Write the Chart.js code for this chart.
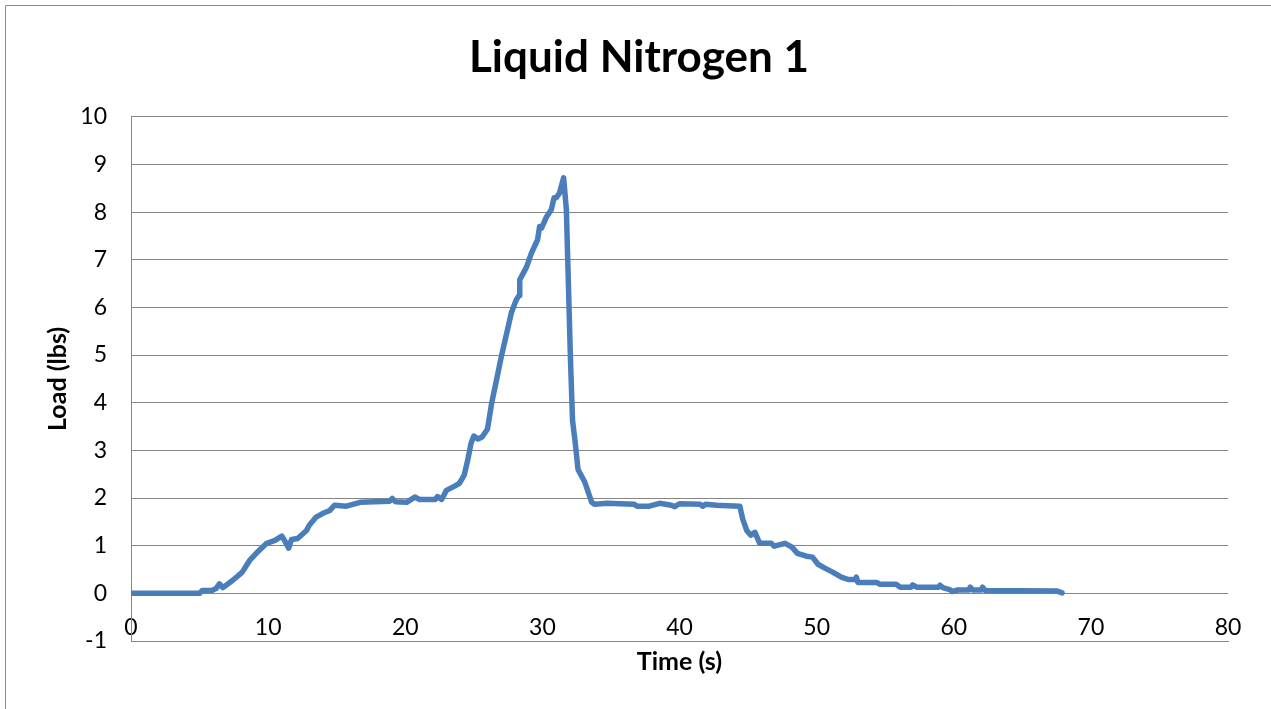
<!DOCTYPE html>
<html>
<head>
<meta charset="utf-8">
<title>Liquid Nitrogen 1</title>
<script src="https://cdn.jsdelivr.net/npm/chart.js@4.4.1/dist/chart.umd.min.js"></script>
<style>
  html, body { margin: 0; padding: 0; background: #fff; }
  canvas { display: block; }
</style>
</head>
<body>
<canvas id="myLoadChart" width="1271" height="709"></canvas>
<script>
// time in seconds
const timeValues = [
  0, 5.0, 5.2, 5.9, 6.2, 6.45, 6.7, 7.4, 8.1, 8.65, 9.2, 9.9, 10.5, 11.0, 11.2, 11.5, 11.7,
  12.15, 12.8, 13.0, 13.5, 14.0, 14.5, 14.85, 15.7, 16.45, 16.7, 18.85, 19.05, 19.3, 20.1,
  20.7, 21.05, 22.2, 22.35, 22.65, 23.0, 23.6, 23.95, 24.3, 24.55, 24.8, 25.0, 25.3, 25.6,
  26.0, 26.3, 26.65, 27.0, 27.4, 27.75, 28.1, 28.3, 28.35, 28.85, 29.2, 29.65, 29.8, 29.95,
  30.3, 30.65, 30.85, 31.0, 31.25, 31.55, 31.75, 31.85, 32.05, 32.2, 32.4, 32.6, 33.1, 33.6,
  33.8, 34.7, 36.7, 36.9, 37.8, 38.55, 39.4, 39.65, 40.0, 41.5, 41.7, 41.9, 42.7, 43.5, 44.4,
  44.6, 44.9, 45.2, 45.5, 45.85, 46.7, 46.9, 47.7, 48.2, 48.6, 49.25, 49.7, 50.1, 50.6, 51.2,
  51.8, 52.3, 52.85, 52.9, 53.0, 54.4, 54.6, 55.8, 56.1, 56.9, 57.0, 57.3, 58.9, 59.0, 59.2,
  59.7, 59.9, 60.3, 61.1, 61.2, 61.4, 62.0, 62.1, 62.3, 67.5, 67.9
];
// load in lbs
const loadValues = [
  0, 0, 0.06, 0.06, 0.1, 0.2, 0.12, 0.27, 0.44, 0.69, 0.86, 1.05, 1.11, 1.2, 1.11, 0.95, 1.13,
  1.15, 1.32, 1.43, 1.6, 1.68, 1.74, 1.85, 1.83, 1.89, 1.91, 1.93, 1.99, 1.92, 1.91,
  2.02, 1.97, 1.97, 2.03, 1.97, 2.16, 2.25, 2.31, 2.48, 2.79, 3.15, 3.3, 3.24, 3.28,
  3.45, 3.99, 4.47, 4.96, 5.46, 5.9, 6.16, 6.25, 6.58, 6.85, 7.14, 7.42, 7.7, 7.67,
  7.9, 8.05, 8.3, 8.3, 8.4, 8.72, 8.05, 7.0, 4.9, 3.63, 3.15, 2.6, 2.33, 1.91,
  1.87, 1.89, 1.87, 1.83, 1.83, 1.89, 1.85, 1.82, 1.88, 1.87, 1.83, 1.87, 1.85, 1.84, 1.83,
  1.57, 1.32, 1.22, 1.28, 1.05, 1.05, 0.99, 1.05, 0.97, 0.84, 0.78, 0.76, 0.61, 0.53, 0.44,
  0.34, 0.29, 0.29, 0.34, 0.23, 0.23, 0.19, 0.19, 0.13, 0.13, 0.18, 0.13, 0.13, 0.17, 0.12,
  0.08, 0.04, 0.07, 0.07, 0.13, 0.07, 0.07, 0.13, 0.06, 0.05, 0.01
];
const xTicks = [0, 10, 20, 30, 40, 50, 60, 70, 80];
const yTicks = [-1, 0, 1, 2, 3, 4, 5, 6, 7, 8, 9, 10];

const gridColor = "#868686";
const fontName = "Lato";

const puntos = timeValues.map((t, i) => ({ x: t, y: loadValues[i] }));

// white background + the thin frame Excel draws round the chart
const marco = {
  id: "marco",
  beforeDraw(chart) {
    const c = chart.ctx;
    c.save();
    c.fillStyle = "#fff";
    c.fillRect(0, 0, chart.width, chart.height);
    c.strokeStyle = "#8c8c8c";
    c.lineWidth = 1;
    c.beginPath();
    c.moveTo(5.5, chart.height);
    c.lineTo(5.5, 5.5);
    c.lineTo(chart.width, 5.5);
    c.stroke();
    c.restore();
  },
};

let myLoadChart;
const ctx = document.getElementById("myLoadChart").getContext("2d");
myLoadChart = new Chart(ctx, {
  type: "scatter",
  data: {
    datasets: [
      {
        label: "Load (lbs)",
        data: puntos,
        showLine: true,
        borderColor: "#4A7EBB",
        backgroundColor: "#4A7EBB",
        borderWidth: 5.5,
        pointRadius: 0,
        tension: 0,
        borderJoinStyle: "round",
        borderCapStyle: "round",
      },
    ],
  },
  options: {
    responsive: false,
    animation: false,
    layout: { padding: { left: 50, right: 43, top: 0, bottom: 0 } },
    plugins: {
      legend: { display: false },
      tooltip: { enabled: false },
      title: {
        display: true,
        text: "Liquid Nitrogen 1",
        color: "#000",
        font: { family: fontName, size: 44, weight: "bold" },
        padding: { top: 31, bottom: 33 },
      },
    },
    scales: {
      x: {
        type: "linear",
        min: xTicks[0],
        max: xTicks[xTicks.length - 1],
        afterBuildTicks: (s) => { s.ticks = xTicks.map((v) => ({ value: v })); },
        afterFit: (s) => { s.height = 68; },
        grid: { display: false, drawTicks: false },
        border: { display: true, color: gridColor, width: 1 },
        ticks: {
          color: "#000",
          mirror: true,
          padding: 0,
          font: { family: fontName, size: 23 },
        },
        title: {
          display: true,
          text: "Time (s)",
          color: "#000",
          font: { family: fontName, size: 25, weight: "bold" },
          padding: { top: 0, bottom: 32 },
        },
      },
      y: {
        type: "linear",
        min: yTicks[0],
        max: yTicks[yTicks.length - 1],
        afterBuildTicks: (s) => { s.ticks = yTicks.map((v) => ({ value: v })); },
        afterFit: (s) => { s.width = 81; },
        grid: { color: gridColor, lineWidth: 1, drawTicks: false },
        border: { display: true, color: gridColor, width: 1 },
        ticks: {
          color: "#000",
          padding: 24,
          font: { family: fontName, size: 23 },
        },
        title: {
          display: true,
          text: "Load (lbs)",
          color: "#000",
          font: { family: fontName, size: 25, weight: "bold" },
          padding: { top: -7, bottom: 0 },
        },
      },
    },
  },
  plugins: [marco],
});
</script>
</body>
</html>
